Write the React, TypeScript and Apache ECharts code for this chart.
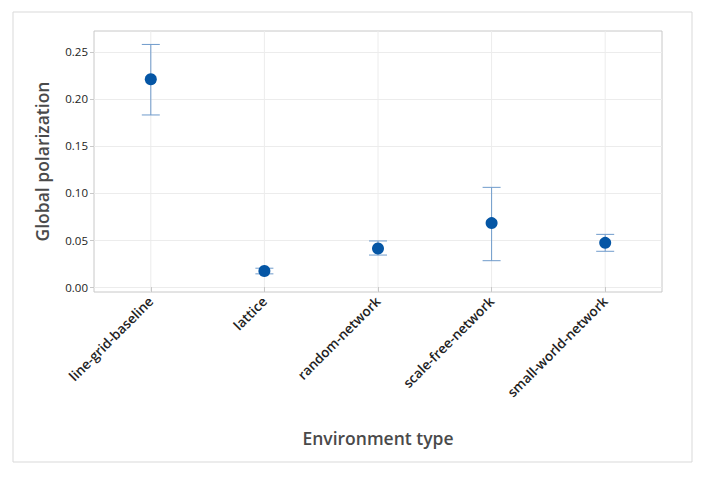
import React, { useEffect, useRef } from "react";
import * as echarts from "echarts";

const categories = ["line-grid-baseline", "lattice", "random-network", "scale-free-network", "small-world-network"];
const means = [0.221, 0.017, 0.041, 0.068, 0.047];
const lowers = [0.183, 0.014, 0.034, 0.028, 0.038];
const uppers = [0.258, 0.020, 0.049, 0.106, 0.056];
const yTicks = [0, 0.05, 0.1, 0.15, 0.2, 0.25];

const FONT = "'Open Sans', 'Noto Sans', sans-serif";

export default function App() {
  const ref = useRef<HTMLDivElement>(null);
  useEffect(() => {
    if (!ref.current) return;
    const chart = echarts.init(ref.current, null, { renderer: "svg" });
    const errData = categories.map((_, i) => [i, lowers[i], uppers[i]]);
    const gridData = categories.map((_, i) => [i, 0]);
    chart.setOption({
      animation: false,
      backgroundColor: "#fff",
      textStyle: { fontFamily: FONT },
      graphic: [
        {
          type: "rect",
          shape: { x: 13, y: 12, width: 679, height: 450 },
          style: { fill: "none", stroke: "#d9d9d9", lineWidth: 1 },
          silent: true,
        },
      ],
      grid: {
        left: 94,
        right: 45,
        top: 31,
        bottom: 188,
        show: true,
        borderColor: "#c8c8c8",
        borderWidth: 1,
      },
      xAxis: {
        type: "category",
        data: categories,
        boundaryGap: true,
        name: "Environment type",
        nameLocation: "middle",
        nameGap: 137,
        nameTextStyle: { fontSize: 17.5, color: "#4a4a4a", fontWeight: 600, fontFamily: FONT },
        axisLine: { show: false },
        axisTick: { show: true, alignWithLabel: true, length: 5, lineStyle: { color: "#c8c8c8" } },
        axisLabel: {
          rotate: 45,
          fontSize: 13.5,
          color: "#222",
          fontWeight: 600,
          margin: 7,
          interval: 0,
          fontFamily: FONT,
        },
        splitLine: { show: false },
      },
      yAxis: {
        type: "value",
        min: -0.0053,
        max: 0.2723,
        name: "Global polarization",
        nameLocation: "middle",
        nameGap: 43,
        nameTextStyle: { fontSize: 17.5, color: "#4a4a4a", fontWeight: 600, fontFamily: FONT },
        axisLine: { show: false },
        axisTick: { show: true, length: 4, lineStyle: { color: "#c8c8c8" }, customValues: yTicks },
        axisLabel: {
          fontSize: 11.5,
          color: "#222",
          margin: 6,
          customValues: yTicks,
          formatter: (v: number) => v.toFixed(2),
          fontFamily: FONT,
        },
        splitLine: { show: true, lineStyle: { color: "#ececec" } },
      },
      series: [
        {
          type: "custom",
          data: gridData,
          encode: { x: 0, y: 1 },
          silent: true,
          renderItem: (params: any, api: any) => {
            const cs = params.coordSys;
            const p = api.coord([api.value(0), 0]);
            return {
              type: "line",
              shape: { x1: p[0], y1: cs.y, x2: p[0], y2: cs.y + cs.height },
              style: { stroke: "#ececec", lineWidth: 1 },
            };
          },
          z: 0,
        },
        {
          type: "custom",
          data: errData,
          encode: { x: 0, y: [1, 2] },
          renderItem: (params: any, api: any) => {
            const i = api.value(0);
            const lo = api.coord([i, api.value(1)]);
            const hi = api.coord([i, api.value(2)]);
            const hw = 9;
            const style = { stroke: "#6f9bcb", lineWidth: 1 };
            return {
              type: "group",
              children: [
                { type: "line", shape: { x1: lo[0], y1: lo[1], x2: hi[0], y2: hi[1] }, style },
                { type: "line", shape: { x1: lo[0] - hw, y1: lo[1], x2: lo[0] + hw, y2: lo[1] }, style },
                { type: "line", shape: { x1: hi[0] - hw, y1: hi[1], x2: hi[0] + hw, y2: hi[1] }, style },
              ],
            };
          },
          z: 2,
        },
        {
          type: "scatter",
          data: means,
          symbol: "circle",
          symbolSize: 12,
          itemStyle: { color: "#0556a5", opacity: 1 },
          z: 3,
        },
      ],
    });
    return () => chart.dispose();
  }, []);
  return (
    <div
      ref={ref}
      style={{ position: "fixed", left: 0, top: 0, width: 707, height: 480 }}
    />
  );
}
